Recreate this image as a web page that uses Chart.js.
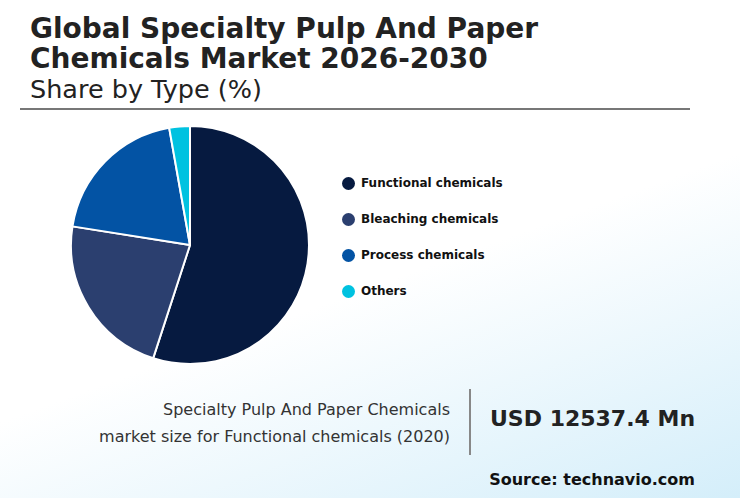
<!DOCTYPE html><html><head><meta charset="utf-8">
<script src="https://cdn.jsdelivr.net/npm/chart.js@4"></script>
<style>
body{margin:0;width:740px;height:498px;overflow:hidden;font-family:"DejaVu Sans",sans-serif;color:#222;
background:linear-gradient(160deg,#ffffff 0%,#ffffff 55%,#d4eefa 100%);position:relative}
.a{position:absolute;white-space:nowrap}
.lg{position:absolute;left:342px;font-size:12px;font-weight:bold;color:#111;display:flex;align-items:center}
.lg i{display:inline-block;width:13px;height:13px;border-radius:50%;margin-right:6px}
</style></head><body>
<div class="a" style="left:30px;top:14px;font-size:28px;font-weight:bold;line-height:30px;color:#222">Global Specialty Pulp And Paper<br>Chemicals Market 2026-2030</div>
<div class="a" style="left:30px;top:76px;font-size:25.5px;line-height:26px;color:#222">Share by Type (%)</div>
<div class="a" style="left:20px;top:108px;width:670px;height:2px;background:#777"></div>
<div class="a" style="left:70px;top:125px;width:240px;height:240px"><canvas id="c" width="240" height="240"></canvas></div>
<div id="leg"></div>
<div class="a" style="right:290px;top:396px;font-size:16px;text-align:right;line-height:27px;color:#333">Specialty Pulp And Paper Chemicals<br>market size for Functional chemicals (2020)</div>
<div class="a" style="left:469px;top:389px;width:2px;height:66px;background:#888"></div>
<div class="a" style="left:490px;top:406px;font-size:22px;font-weight:bold;color:#222">USD 12537.4 Mn</div>
<div class="a" style="right:45px;top:470px;font-size:16px;font-weight:bold;color:#111">Source: technavio.com</div>
<script>
const categories=["Functional chemicals","Bleaching chemicals","Process chemicals","Others"];
const shares=[55,22.5,19.7,2.8];
const colors=["#061a40","#2b3f6f","#0353a4","#00c2e0"];
const leg=document.getElementById('leg');
categories.forEach((c,i)=>{const d=document.createElement('div');d.className='lg';d.style.top=(176+i*36)+'px';
d.innerHTML='<i style="background:'+colors[i]+'"></i>'+c;leg.appendChild(d);});
new Chart(document.getElementById('c'),{type:'pie',data:{labels:categories,datasets:[{data:shares,backgroundColor:colors,borderColor:'#fff',borderWidth:2}]},
options:{responsive:false,animation:false,plugins:{legend:{display:false},tooltip:{enabled:false}},layout:{padding:0}}});
</script></body></html>
